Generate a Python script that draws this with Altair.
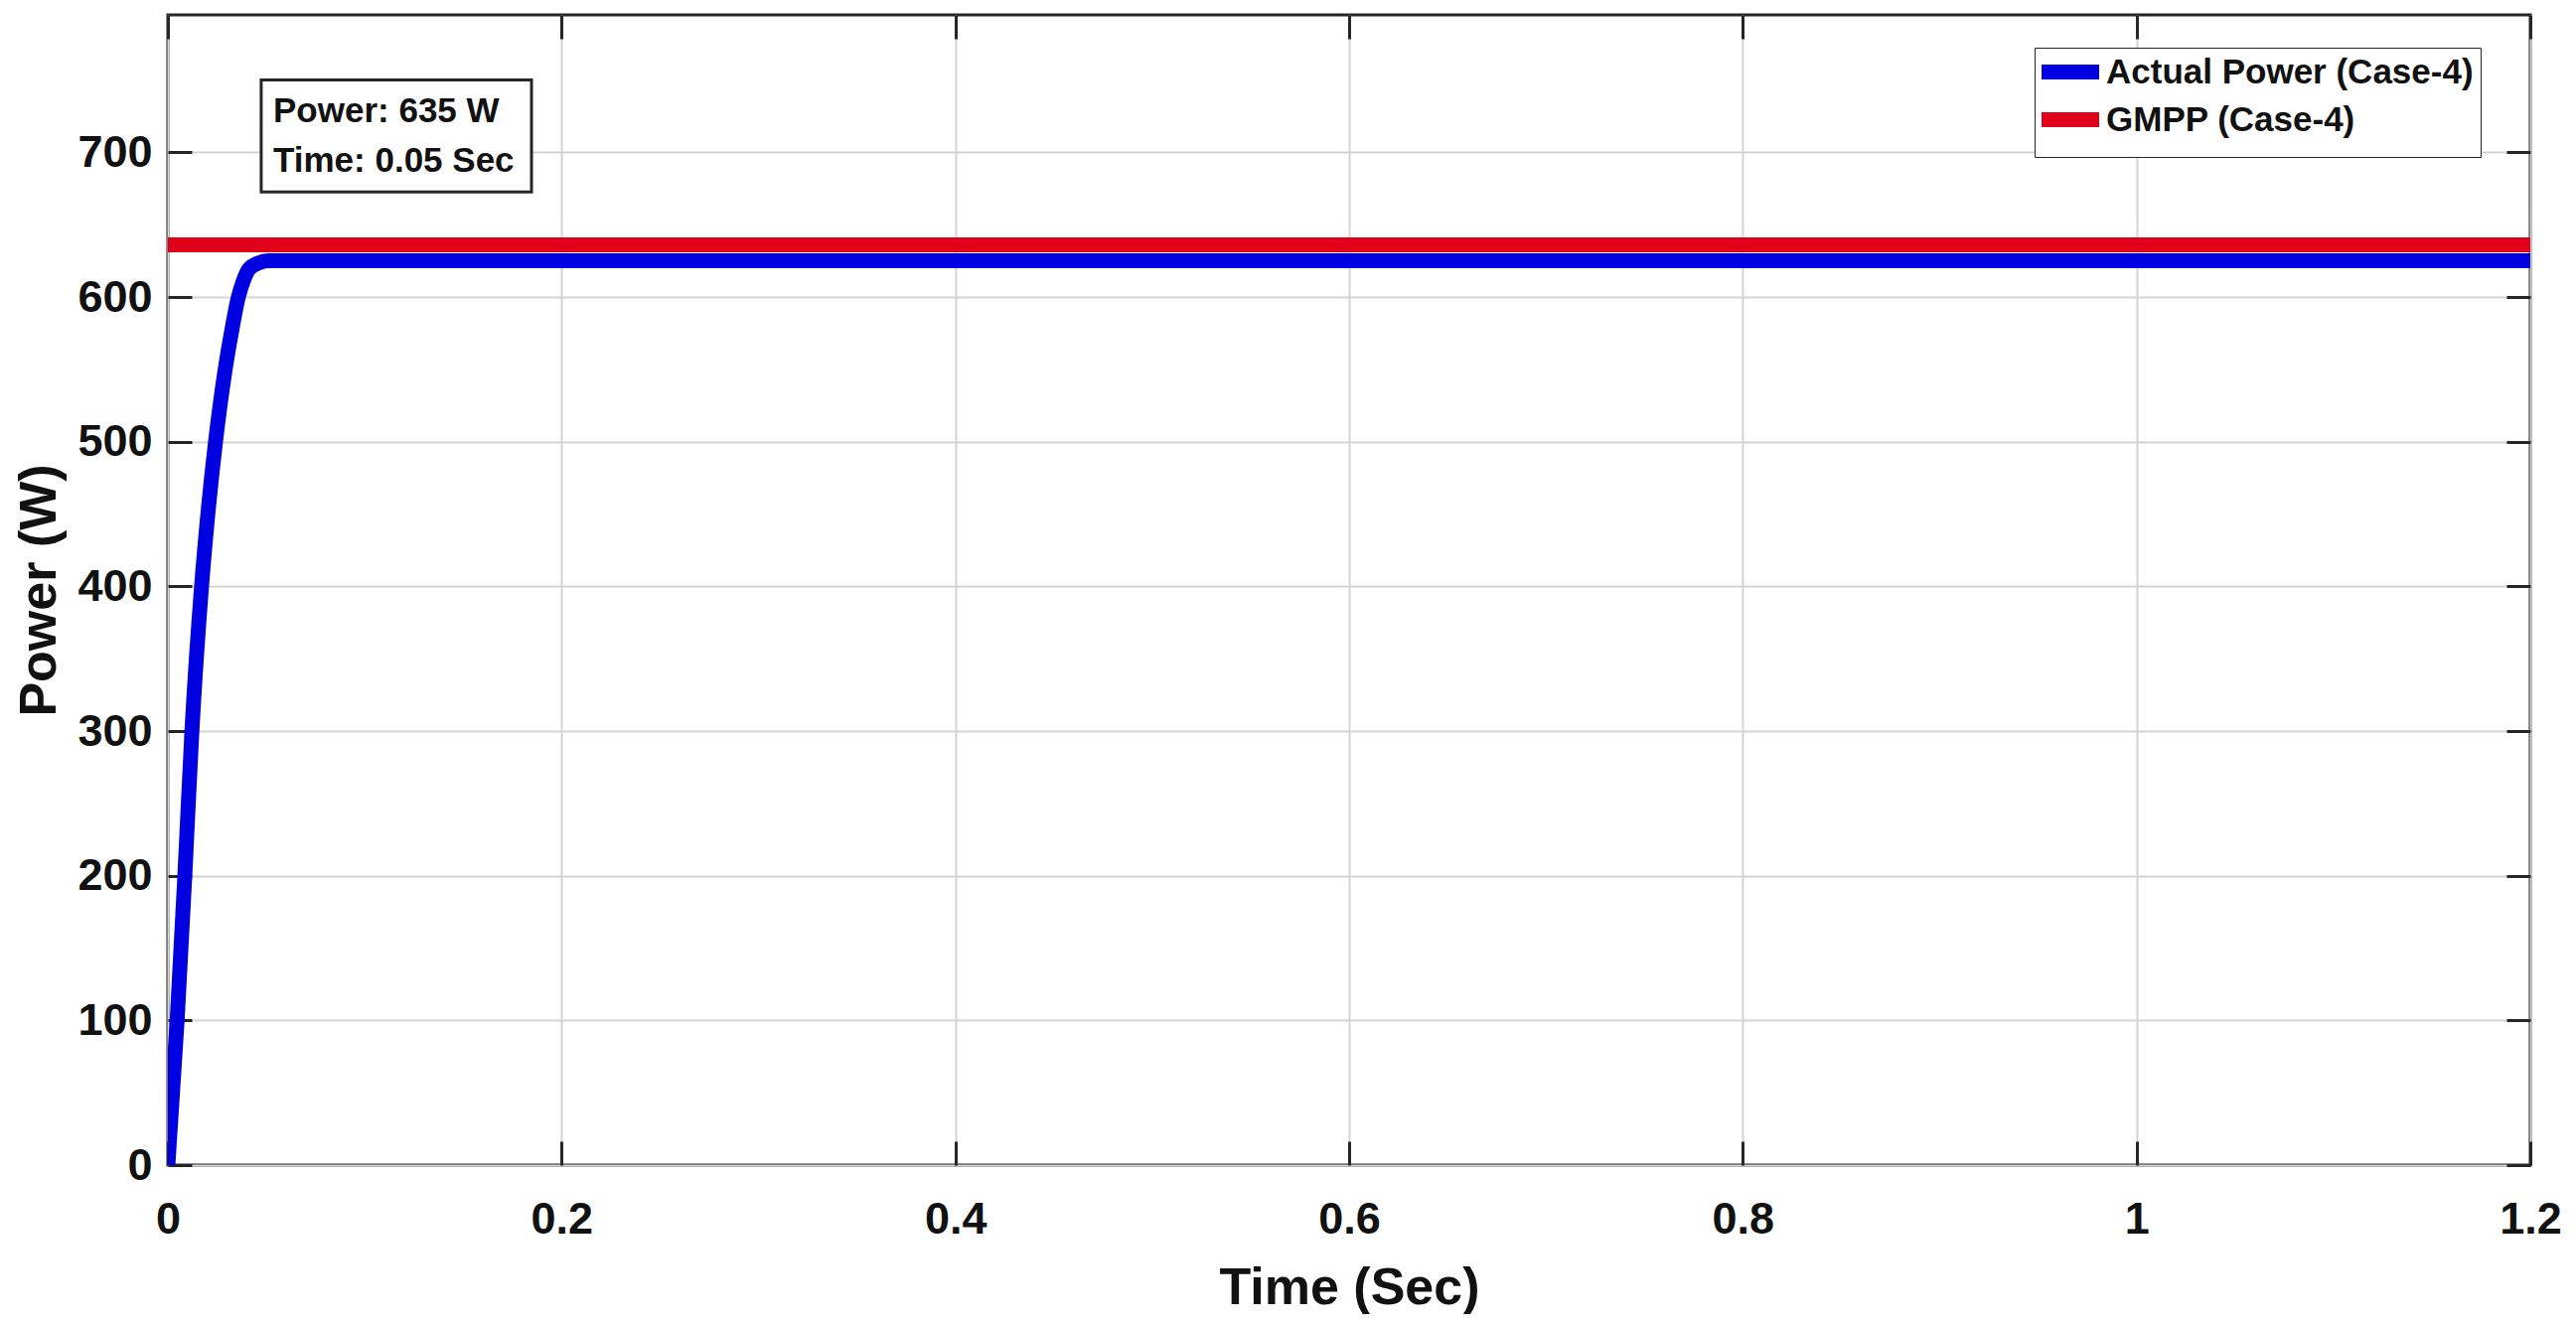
import altair as alt
import pandas as pd

# ---- data ----
series_names = ["Actual Power (Case-4)", "GMPP (Case-4)"]
series_colors = ["#0000e0", "#e0001a"]

t_actual = [0.0, 0.0047, 0.0086, 0.0122, 0.0171, 0.0203, 0.0242, 0.0291, 0.0322, 0.0358, 0.0383, 0.041, 0.046, 0.051, 0.06, 0.2, 0.4, 0.6, 0.8, 1.0, 1.2]
p_actual = [0, 100, 200, 300, 400, 450, 500, 550, 575, 600, 611, 619, 623.5, 625, 625, 625, 625, 625, 625, 625, 625]

t_gmpp = [0.0, 1.2]
p_gmpp = [636, 636]

x_ticks = [0, 0.2, 0.4, 0.6, 0.8, 1.0, 1.2]
y_ticks = [0, 100, 200, 300, 400, 500, 600, 700]
x_domain = [0, 1.2]
y_domain = [0, 795]

ann_lines = ["Power: 635 W", "Time: 0.05 Sec"]
ann_text_t = [0.0535, 0.0535]
ann_text_p = [720.6, 686.3]
ann_box_t = [0.0474, 0.1847]
ann_box_p = [672.6, 750.1]

# ---- tables ----
df_actual = pd.DataFrame({"t": t_actual, "p": p_actual, "series": series_names[0]})
df_gmpp = pd.DataFrame({"t": t_gmpp, "p": p_gmpp, "series": series_names[1]})
df_box = pd.DataFrame({"t0": [ann_box_t[0]], "t1": [ann_box_t[1]],
                       "p0": [ann_box_p[0]], "p1": [ann_box_p[1]]})
df_text = pd.DataFrame({"t": ann_text_t, "p": ann_text_p, "txt": ann_lines})

FONT = "Liberation Sans"
DARK = "#262626"
TICK = 24

xs = alt.Scale(domain=x_domain, nice=False, zero=False)
ys = alt.Scale(domain=y_domain, nice=False, zero=False)

color = alt.Color(
    "series:N",
    scale=alt.Scale(domain=series_names, range=series_colors),
    legend=alt.Legend(
        title=None, orient="none", legendX=1879, legendY=33,
        symbolType="M-1.75,0H4.05", symbolStrokeWidth=15, symbolSize=400,
        labelFont=FONT, labelFontSize=35, labelFontWeight="bold", labelColor="#111111",
        labelLimit=800, labelOffset=30, rowPadding=-13, padding=7,
        strokeColor=DARK, fillColor="white", cornerRadius=0,
    ),
)

x_main = alt.Axis(
    orient="bottom", values=x_ticks, format="~g", ticks=False, domain=False,
    grid=True, gridColor="#d4d4d4", gridWidth=2, labelFlush=False,
    labelFont=FONT, labelFontSize=45, labelFontWeight="bold", labelColor="#111111",
    labelPadding=32, title="Time (Sec)", titleFont=FONT, titleFontSize=52,
    titleFontWeight="bold", titleColor="#111111", titleBaseline="alphabetic", titleY=139,
)
y_main = alt.Axis(
    orient="left", values=y_ticks, ticks=False, domain=False,
    grid=True, gridColor="#d4d4d4", gridWidth=2, labelFlush=False,
    labelFont=FONT, labelFontSize=45, labelFontWeight="bold", labelColor="#111111",
    labelPadding=16, title="Power (W)", titleFont=FONT, titleFontSize=52,
    titleFontWeight="bold", titleColor="#111111", titleBaseline="alphabetic",
    titleAngle=270, titleAlign="center", titleX=-114, titleY=579,
)


def tick_axis(orient, vals):
    return alt.Axis(orient=orient, values=vals, offset=-TICK, tickSize=TICK, tickWidth=3,
                    tickColor=DARK, labels=False, domain=False, grid=False, title=None)


actual = alt.Chart(df_actual).mark_line(
    strokeWidth=15, interpolate="monotone", clip=True, strokeJoin="round"
).encode(
    x=alt.X("t:Q", scale=xs, axis=x_main),
    y=alt.Y("p:Q", scale=ys, axis=y_main),
    color=color,
)

gmpp = alt.Chart(df_gmpp).mark_line(strokeWidth=15, clip=True).encode(
    x=alt.X("t:Q", scale=xs, axis=tick_axis("bottom", x_ticks)),
    y=alt.Y("p:Q", scale=ys, axis=tick_axis("left", y_ticks)),
    color=color,
)

box = alt.Chart(df_box).mark_rect(fill="white", stroke=DARK, strokeWidth=3).encode(
    x=alt.X("t0:Q", scale=xs, axis=tick_axis("top", x_ticks)),
    x2="t1:Q",
    y=alt.Y("p0:Q", scale=ys, axis=tick_axis("right", y_ticks)),
    y2="p1:Q",
)

text = alt.Chart(df_text).mark_text(
    align="left", baseline="alphabetic", font=FONT, fontSize=35, fontWeight="bold", color="#111111"
).encode(
    x=alt.X("t:Q", scale=xs, axis=None),
    y=alt.Y("p:Q", scale=ys, axis=None),
    text="txt:N",
)

chart = (
    alt.layer(actual, gmpp, box, text)
    .resolve_axis(x="independent", y="independent")
    .properties(
        width=2378, height=1158,
        autosize=alt.AutoSizeParams(type="none"),
        padding={"left": 161, "top": 7, "right": 36, "bottom": 150},
        background="white",
    )
    .configure_view(stroke=DARK, strokeWidth=3)
)

chart.save("out.html", embed_options={"renderer": "svg", "actions": False})
